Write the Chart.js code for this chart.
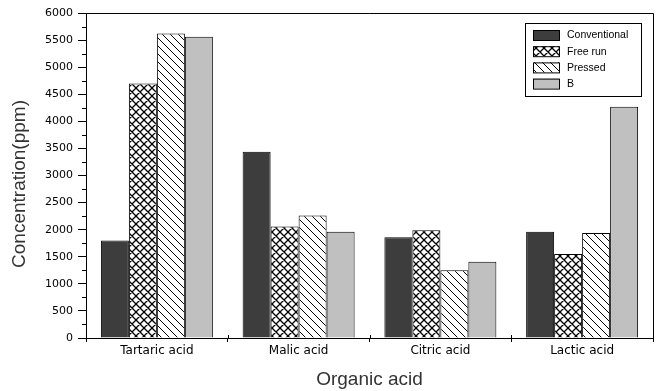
<!DOCTYPE html>
<html>
<head>
<meta charset="utf-8">
<script src="https://cdn.jsdelivr.net/npm/chart.js@4"></script>
<style>
  html, body { margin: 0; padding: 0; background: #fff; }
  canvas { display: block; }
</style>
</head>
<body>
<canvas id="c" width="657" height="391"></canvas>
<script>
// ---- data ----
const categories = ['Tartaric acid', 'Malic acid', 'Citric acid', 'Lactic acid'];
const seriesNames = ['Conventional', 'Free run', 'Pressed', 'B'];
const conventional = [1800, 3440, 1860, 1960];
const freeRun = [4700, 2060, 1990, 1550];
const pressed = [5620, 2260, 1250, 1940];
const bValues = [5560, 1960, 1410, 4270];
const yTicks = [0, 500, 1000, 1500, 2000, 2500, 3000, 3500, 4000, 4500, 5000, 5500, 6000];
const xTitle = 'Organic acid';
const yTitle = 'Concentration(ppm)';

// ---- patterns ----
function makePattern(kind) {
  const s = 8;
  const c = document.createElement('canvas');
  c.width = s; c.height = s;
  const g = c.getContext('2d');
  g.fillStyle = '#fff';
  g.fillRect(0, 0, s, s);
  g.strokeStyle = '#000';
  g.lineWidth = kind === 'cross' ? 1.3 : 1;
  g.beginPath();
  for (let k = -1; k <= 1; k++) {
    g.moveTo(k * s, 0); g.lineTo(k * s + s, s);
    if (kind === 'cross') {
      g.moveTo(k * s, s); g.lineTo(k * s + s, 0);
    }
  }
  g.stroke();
  return g.createPattern(c, 'repeat');
}
const ctx = document.getElementById('c').getContext('2d');
const fills = ['#3d3d3d', makePattern('cross'), makePattern('back'), '#c0c0c0'];
const values = [conventional, freeRun, pressed, bValues];

const decor = {
  id: 'decor',
  afterDraw(chart) {
    const g = chart.ctx;
    const a = chart.chartArea;
    const ys = chart.scales.y, xs = chart.scales.x;
    g.save();
    g.strokeStyle = '#000';
    g.lineWidth = 1;
    g.beginPath();
    g.moveTo(a.left, a.top + 0.5); g.lineTo(a.right + 0.5, a.top + 0.5);
    g.lineTo(a.right + 0.5, a.bottom);
    g.stroke();
    g.beginPath();
    for (let v = 250; v < 6000; v += 500) {
      const py = Math.round(ys.getPixelForValue(v)) + 0.5;
      g.moveTo(a.left - 4, py); g.lineTo(a.left, py);
    }
    for (let i = 0; i <= categories.length; i++) {
      const px = Math.round(xs.left + (xs.right - xs.left) * i / categories.length) + 0.5;
      g.moveTo(px, a.bottom - 3); g.lineTo(px, a.bottom);
    }
    g.stroke();
    // y axis title
    g.save();
    g.translate(20, 184);
    g.rotate(-Math.PI / 2);
    g.font = '19px "Liberation Sans", Arial, sans-serif';
    g.fillStyle = '#333';
    g.textAlign = 'center';
    g.textBaseline = 'middle';
    g.fillText(yTitle, 0, 0);
    g.restore();
    // legend
    const lx = 525, ly = 23, lw = 116, lh = 73;
    g.fillStyle = '#fff';
    g.fillRect(lx, ly, lw, lh);
    g.strokeRect(lx + 0.5, ly + 0.5, lw, lh);
    g.font = '10.5px "Liberation Sans", Arial, sans-serif';
    g.textBaseline = 'middle';
    g.textAlign = 'left';
    chart.data.datasets.forEach((ds, i) => {
      const sy = 30 + i * 16.2;
      g.fillStyle = ds.backgroundColor;
      g.fillRect(533, sy, 26, 10);
      g.strokeRect(533.5, sy + 0.5, 26, 10);
      g.fillStyle = '#000';
      g.fillText(ds.label, 567, sy + 5.5);
    });
    g.restore();
  }
};

new Chart(ctx, {
  type: 'bar',
  data: {
    labels: categories,
    datasets: seriesNames.map((n, i) => ({
      label: n,
      data: values[i],
      backgroundColor: fills[i],
      borderColor: '#000',
      borderWidth: 1,
      categoryPercentage: 0.79,
      barPercentage: 1.0
    }))
  },
  options: {
    responsive: false,
    animation: false,
    devicePixelRatio: 1,
    layout: { padding: { top: 13, right: 4, left: 0, bottom: 0 } },
    plugins: { legend: { display: false }, tooltip: { enabled: false } },
    scales: {
      x: {
        grid: { offset: true, drawOnChartArea: false, tickLength: 4, color: '#000', tickColor: '#000' },
        border: { color: '#000', width: 1 },
        ticks: { color: '#000', font: { family: '"DejaVu Sans", sans-serif', size: 12 }, padding: 2, maxRotation: 0 },
        title: { display: true, text: xTitle, color: '#333', font: { family: '"Liberation Sans", Arial, sans-serif', size: 19, lineHeight: 1.2 }, padding: { top: 0, bottom: 0 } },
        afterFit(s) { s.height = 53; }
      },
      y: {
        min: 0, max: 6000,
        afterBuildTicks(s) { s.ticks = yTicks.map(v => ({ value: v })); },
        grid: { drawOnChartArea: false, tickLength: 8, color: '#000', tickColor: '#000' },
        border: { color: '#000', width: 1 },
        ticks: { color: '#000', font: { family: '"DejaVu Sans", sans-serif', size: 11 }, padding: 5, callback: v => String(v) },
        afterFit(s) { s.width = 86; }
      }
    }
  },
  plugins: [decor]
});
</script>
</body>
</html>
